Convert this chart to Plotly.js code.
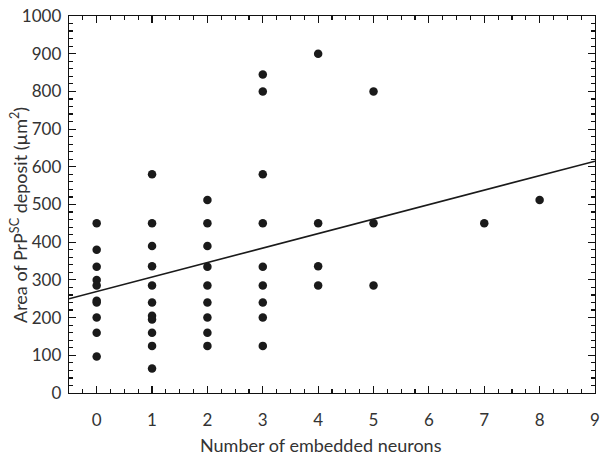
<!DOCTYPE html>
<html>
<head>
<meta charset="utf-8">
<script src="https://cdn.plot.ly/plotly-3.0.1.min.js"></script>
<style>html,body{margin:0;padding:0;background:#fff;}#chart{width:601px;height:455px;}</style>
</head>
<body>
<div id="chart"></div>
<script>
// Number of embedded neurons per deposit
const neurons = [
  0,0,0,0,0,0,0,0,0,0,
  1,1,1,1,1,1,1,1,1,1,1,
  2,2,2,2,2,2,2,2,2,
  3,3,3,3,3,3,3,3,3,
  4,4,4,4,
  5,5,5,
  7,
  8
];
// Area of PrPSc deposit (µm²)
const area = [
  450,380,335,300,285,245,240,200,160,97,
  580,450,390,336,285,240,205,195,160,125,65,
  512,450,390,335,285,240,200,160,125,
  845,800,580,450,335,285,240,200,125,
  900,450,336,285,
  800,450,285,
  450,
  512
];
// Regression line end points
const fitX = [-0.5, 9];
const fitY = [250, 615];

const xRange = [-0.5, 9];
const yRange = [0, 1000];
const xTitle = 'Number of embedded neurons';
const yTitle = 'Area of PrP<sup>SC</sup> deposit (µm<sup>2</sup>)';

const fam = 'Lato, Open Sans, sans-serif';
const titleFont = {family: fam, size: 18, color: '#333'};
const tickFont = {family: fam, size: 17, color: '#333'};

const data = [
  {x: neurons, y: area, mode: 'markers', type: 'scatter',
   marker: {size: 8.5, color: '#1a1a1a'}, hoverinfo: 'x+y'},
  {x: fitX, y: fitY, mode: 'lines', type: 'scatter',
   line: {color: '#1a1a1a', width: 1.6}},
  // empty trace so the minor-tick overlay axes get drawn
  {x: [], y: [], xaxis: 'x2', yaxis: 'y2', type: 'scatter', mode: 'markers', showlegend: false}
];

const baseAxis = {
  showgrid: false, zeroline: false, showline: true, linecolor: '#111', linewidth: 1.3,
  mirror: 'ticks', ticks: 'inside', tickcolor: '#111', tickwidth: 1.2
};

const layout = {
  width: 601, height: 455,
  margin: {l: 69, r: 6, t: 16, b: 62},
  paper_bgcolor: '#fff', plot_bgcolor: '#fff',
  showlegend: false,
  font: titleFont,
  xaxis: Object.assign({}, baseAxis, {
    ticklen: 7, tickfont: tickFont, ticklabelstandoff: 11,
    range: xRange, tickmode: 'linear', tick0: 0, dtick: 1
  }),
  yaxis: Object.assign({}, baseAxis, {
    ticklen: 7, tickfont: tickFont, ticklabelstandoff: 3,
    range: yRange, tickmode: 'linear', tick0: 0, dtick: 100
  }),
  xaxis2: Object.assign({}, baseAxis, {
    overlaying: 'x', anchor: 'y2', side: 'bottom', ticklen: 4, showticklabels: false,
    range: xRange, tickmode: 'linear', tick0: 0, dtick: 0.25
  }),
  yaxis2: Object.assign({}, baseAxis, {
    overlaying: 'y', anchor: 'x2', side: 'left', ticklen: 4, showticklabels: false,
    range: yRange, tickmode: 'linear', tick0: 0, dtick: 20
  }),
  annotations: [
    {
      text: yTitle, font: titleFont, textangle: -90, showarrow: false,
      xref: 'paper', yref: 'paper', x: 0, y: 0.5,
      xanchor: 'center', yanchor: 'middle', xshift: -50.5, yshift: -11
    },
    {
      text: xTitle, font: titleFont, showarrow: false,
      xref: 'paper', yref: 'paper', x: 0.5, y: 0,
      xanchor: 'center', yanchor: 'middle', xshift: -11, yshift: -52
    }
  ]
};

Plotly.newPlot('chart', data, layout, {staticPlot: true, displayModeBar: false});
</script>
</body>
</html>
